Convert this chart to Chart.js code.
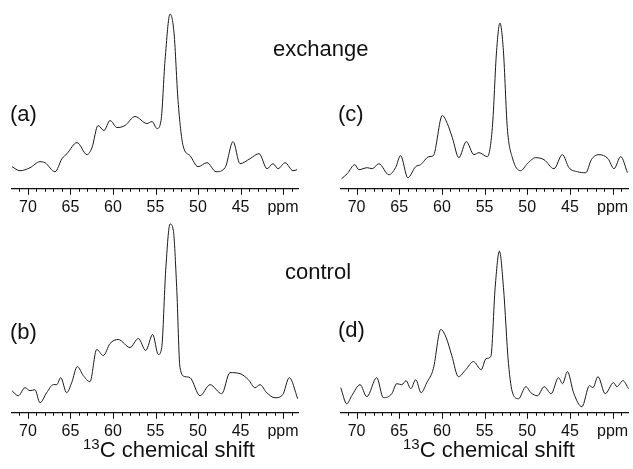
<!DOCTYPE html>
<html>
<head>
<meta charset="utf-8">
<script src="https://cdn.jsdelivr.net/npm/chart.js@4/dist/chart.umd.min.js"></script>
<style>
  body { margin: 0; background: #fff; }
  #wrap { position: relative; width: 633px; height: 469px; background: #fff; overflow: hidden;
          font-family: "Liberation Sans", Arial, Helvetica, sans-serif; color: #111; }
  #wrap canvas { position: absolute; }
  .txt { position: absolute; white-space: nowrap; line-height: 22px; font-size: 22px; }
  sup { font-size: 15px; vertical-align: 8px; line-height: 0; }
</style>
</head>
<body>
<div id="wrap">
  <canvas id="chartA" width="316" height="220" style="left:0;top:0"></canvas>
  <canvas id="chartC" width="317" height="220" style="left:316px;top:0"></canvas>
  <canvas id="chartB" width="316" height="224" style="left:0;top:220px"></canvas>
  <canvas id="chartD" width="317" height="224" style="left:316px;top:220px"></canvas>

  <div class="txt" style="left:273px;top:38px">exchange</div>
  <div class="txt" style="left:285px;top:261px">control</div>
  <div class="txt" style="left:10px;top:103px">(a)</div>
  <div class="txt" style="left:338px;top:103px">(c)</div>
  <div class="txt" style="left:10px;top:321px">(b)</div>
  <div class="txt" style="left:338px;top:319px">(d)</div>
  <div class="txt" style="left:83px;top:439px"><sup>13</sup>C chemical shift</div>
  <div class="txt" style="left:403px;top:439px"><sup>13</sup>C chemical shift</div>
</div>

<script>
// chemical shift (ppm) and intensity
const ppmA = [71.88, 70.94, 69.76, 68.59, 68.0, 66.82, 66.0, 65.41, 64.24, 63.06, 62.47, 61.76, 61.06, 60.35, 59.53, 58.59, 57.41, 56.0, 55.41, 54.82, 54.35, 53.88, 53.29, 52.82, 52.35, 51.76, 50.94, 50.0, 48.94, 47.88, 46.82, 45.88, 45.06, 43.88, 42.82, 41.88, 41.18, 40.59, 39.76, 38.82, 38.35];
const intA = [22, 18, 21, 27, 26, 17, 30, 35, 46, 34, 41, 63, 58, 68, 61, 63, 72, 65, 67, 60, 68, 128, 174, 155, 88, 43, 33, 22, 26, 17, 21, 47, 25, 30, 35, 20, 25, 20, 26, 18, 19];

const ppmC = [71.76, 71.09, 70.2, 69.73, 68.75, 68.16, 67.39, 66.21, 65.43, 64.84, 63.99, 63.08, 62.5, 61.52, 61.01, 59.95, 59.37, 58.78, 58.01, 57.14, 56.25, 55.66, 54.68, 54.09, 53.59, 53.2, 52.8, 52.34, 51.75, 50.77, 49.99, 49.02, 48.04, 46.87, 45.89, 45.11, 44.13, 43.15, 42.49, 41.6, 40.54, 39.84, 39.05, 38.26];
const intC = [10, 15, 24, 19, 21, 20, 25, 14, 21, 33, 11, 22, 24, 32, 33, 73, 65, 51, 31, 47, 34, 36, 32, 61, 138, 165, 138, 61, 31, 18, 25, 31, 29, 20, 34, 21, 17, 16, 29, 34, 30, 20, 32, 16];

const ppmB = [71.88, 71.14, 70.35, 69.76, 69.18, 68.59, 67.8, 67.02, 66.62, 66.15, 65.45, 64.86, 64.2, 63.49, 62.71, 61.92, 61.14, 60.35, 59.38, 58.0, 57.02, 56.15, 55.33, 54.67, 54.27, 53.8, 53.29, 52.91, 52.51, 52.12, 51.53, 50.94, 49.76, 48.59, 47.21, 46.24, 45.06, 44.08, 43.29, 42.71, 41.92, 40.94, 40.04, 39.26, 38.27];
const intB = [22, 17, 25, 22, 23, 10, 20, 28, 28, 35, 20, 30, 46, 37, 31, 63, 57, 69, 73, 65, 74, 62, 78, 58, 65, 142, 188, 182, 125, 45, 36, 35, 17, 28, 19, 40, 39, 33, 25, 28, 20, 15, 18, 35, 14];

const ppmD = [71.85, 71.15, 70.56, 69.59, 68.8, 67.63, 66.86, 65.87, 65.29, 64.7, 64.2, 63.65, 63.06, 62.44, 61.77, 61.0, 60.13, 59.51, 58.84, 58.07, 57.2, 56.31, 55.4, 54.82, 54.27, 53.76, 53.26, 52.79, 52.2, 51.69, 51.03, 50.16, 49.58, 48.8, 48.02, 47.2, 46.34, 45.87, 45.29, 44.58, 43.6, 42.71, 42.31, 41.72, 40.87, 39.89, 39.5, 38.79, 38.14];
const intD = [25, 9, 17, 28, 16, 35, 15, 19, 29, 28, 32, 24, 33, 20, 30, 44, 83, 75, 57, 36, 43, 51, 43, 54, 56, 125, 161, 125, 49, 19, 14, 26, 20, 17, 26, 19, 35, 29, 41, 20, 6, 27, 25, 36, 19, 30, 26, 32, 24];

const fontFamily = '"Liberation Sans", Arial, Helvetica, sans-serif';

// tick marks: long ones every 5 ppm, short ones every 1 ppm
const tickMarks = {
  id: "tickMarks",
  afterDraw(chart) {
    const scale = chart.scales.x;
    const ctx = chart.ctx;
    ctx.save();
    ctx.strokeStyle = "#111";
    ctx.lineWidth = 1;
    scale.ticks.forEach((t) => {
      const x = Math.round(scale.getPixelForValue(t.value)) + 0.5;
      const len = t.value % 5 === 0 ? 6 : 3;
      ctx.beginPath();
      ctx.moveTo(x, scale.top);
      ctx.lineTo(x, scale.top + len);
      ctx.stroke();
    });
    ctx.restore();
  },
};

function makeChart(id, ppm, intensity, o) {
  return new Chart(document.getElementById(id), {
    type: "line",
    data: {
      datasets: [
        {
          data: ppm.map((p, i) => ({ x: p, y: intensity[i] })),
          borderColor: "#1a1a1a",
          borderWidth: 1,
          pointRadius: 0,
          cubicInterpolationMode: "monotone",
          clip: false,
        },
      ],
    },
    options: {
      responsive: false,
      animation: false,
      layout: { padding: { left: o.left, right: o.right, top: 0, bottom: 0 } },
      scales: {
        x: {
          type: "linear",
          reverse: true,
          min: o.min,
          max: o.max,
          grid: { drawOnChartArea: false, drawTicks: true, tickLength: 6, tickColor: "rgba(0,0,0,0)" },
          border: { display: true, color: "#111", width: 1.3 },
          ticks: {
            stepSize: 1,
            includeBounds: false,
            autoSkip: false,
            maxRotation: 0,
            padding: 3,
            color: "#111",
            font: { family: fontFamily, size: 16 },
            callback: (v) => (v % 5 !== 0 ? "" : v === 40 ? "ppm" : String(v)),
          },
        },
        y: { display: false, min: 0, max: o.top },
      },
      plugins: { legend: { display: false }, tooltip: { enabled: false } },
    },
    plugins: [tickMarks],
  });
}

makeChart("chartA", ppmA, intA, { left: 12, right: 18, min: 38.24, max: 71.88, top: 188 });
makeChart("chartC", ppmC, intC, { left: 25, right: 5, min: 38.2, max: 71.82, top: 188 });
makeChart("chartB", ppmB, intB, { left: 12, right: 18, min: 38.24, max: 71.88, top: 192 });
makeChart("chartD", ppmD, intD, { left: 25, right: 5, min: 38.2, max: 71.82, top: 192 });
</script>
</body>
</html>
